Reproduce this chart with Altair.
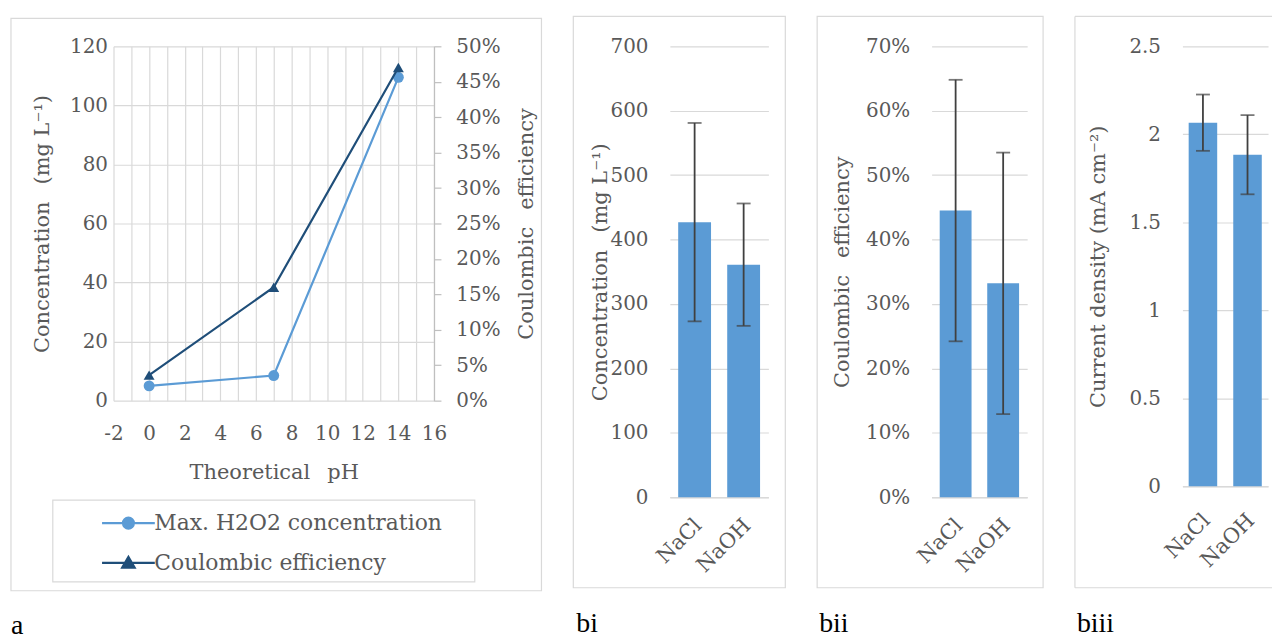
import altair as alt
import pandas as pd

# ---------------- data ----------------
ph = [0, 7, 14]
h2o2_conc = [5.0, 8.5, 109.5]          # mg L-1
coulombic_eff = [0.036, 0.16, 0.47]    # fraction

salts = ["NaCl", "NaOH"]
conc_mean = [427, 361]
conc_err = [154, 95]
ce_mean = [0.445, 0.332]
ce_err = [0.203, 0.203]
cd_mean = [2.066, 1.884]
cd_err = [0.16, 0.225]

series_names = ["Max. H2O2 concentration", "Coulombic efficiency"]
panel_labels = ["a", "bi", "bii", "biii"]

# ---------------- styles ----------------
LIGHT = "#5B9BD5"
DARK = "#1F4E79"
GRID = "#d9d9d9"
AXIS = "#bfbfbf"
TXT = "#595959"
FONT = "DejaVu Serif"
SP = " \u2002"

one = pd.DataFrame({"k": [0]})


def frame_rect(x1, x2, y1, y2):
    return alt.Chart(one).mark_rect(fill="transparent", stroke=GRID, strokeWidth=1.2).encode(
        x=alt.value(x1), x2=alt.value(x2), y=alt.value(y1), y2=alt.value(y2))


def panel_label(text, x, y):
    return alt.Chart(pd.DataFrame({"t": [text]})).mark_text(
        font="Liberation Serif", fontSize=28, color="black", align="left", baseline="alphabetic"
    ).encode(text="t:N", x=alt.value(x), y=alt.value(y))


# ---------------- panel a ----------------
A_W, A_H = 322, 356
df_a = pd.DataFrame({"ph": ph, "h2o2": h2o2_conc, "ce": coulombic_eff})

color_scale = alt.Scale(domain=series_names, range=[LIGHT, DARK])
P_CIRC = "M-5.3,0L5.3,0M-1.1,0A1.1,1.1,0,1,0,1.1,0A1.1,1.1,0,1,0,-1.1,0Z"
P_TRI = "M-5.3,0L5.3,0M-1.25,0.95L0,-1.2L1.25,0.95Z"
sig_shape = "datum.value === '%s' ? '%s' : '%s'" % (series_names[0], P_CIRC, P_TRI)
sig_col = "datum.value === '%s' ? '%s' : '%s'" % (series_names[0], LIGHT, DARK)

legend_def = alt.Legend(
    orient="none", legendX=4, legendY=468, title=None, padding=0,
    labelFont=FONT, labelFontSize=22, labelColor=TXT, labelLimit=500,
    labelOffset=15, symbolSize=100, rowPadding=18,
    symbolType={"expr": sig_shape},
    symbolStrokeColor={"expr": sig_col},
    symbolFillColor={"expr": sig_col},
    symbolStrokeWidth=2.2, symbolOpacity=1,
)

xa = alt.X("ph:Q", scale=alt.Scale(domain=[-2, 16], nice=False, zero=False),
           axis=alt.Axis(values=list(range(-2, 17)),
                         labelExpr="datum.value % 2 === 0 ? '' + datum.value : ''",
                         labelOverlap=False, labelBound=False, labelFlush=False,
                         grid=True, gridColor=GRID, gridWidth=1.2, domain=False, ticks=False,
                         labelPadding=23,
                         title="Theoretical" + SP + "pH", titleX=A_W / 2, titleY=72,
                         titleBaseline="middle", titleAlign="center"))
y_left = alt.Y("h2o2:Q", scale=alt.Scale(domain=[0, 120], nice=False),
               axis=alt.Axis(values=[0, 20, 40, 60, 80, 100, 120], grid=True, gridColor=GRID,
                             gridWidth=1.2, domain=False, ticks=False, labelPadding=6,
                             title="Concentration" + SP + "(mg L\u207b\u00b9)", titleX=-71,
                             titleY=A_H / 2, titleAngle=270, titleBaseline="middle",
                             titleAlign="center", orient="left"))
y_right = alt.Y("ce:Q", scale=alt.Scale(domain=[0, 0.5], nice=False),
                axis=alt.Axis(values=[0, 0.05, 0.1, 0.15, 0.2, 0.25, 0.3, 0.35, 0.4, 0.45, 0.5],
                              format=".0%", grid=False, domain=True, domainColor=AXIS,
                              domainWidth=1.2, ticks=True, tickColor=AXIS, tickSize=7,
                              tickWidth=1.2, labelPadding=15,
                              title="Coulombic" + SP + "efficiency", titleX=93, titleY=A_H / 2,
                              titleAngle=270, titleBaseline="middle", titleAlign="center",
                              orient="right"))

base_a = alt.Chart(df_a).encode(x=xa)
h_line = base_a.mark_line(color=LIGHT, strokeWidth=2.2).encode(y=y_left)
h_pts = base_a.mark_point(filled=True, shape="circle", size=120, opacity=1).transform_calculate(
    s="'%s'" % series_names[0]).encode(y=y_left, color=alt.Color("s:N", scale=color_scale, legend=legend_def))
c_line = base_a.mark_line(color=DARK, strokeWidth=2.2).encode(y=y_right)
c_pts = base_a.mark_point(filled=True, shape="triangle-up", size=120, opacity=1).transform_calculate(
    s="'%s'" % series_names[1]).encode(y=y_right, color=alt.Color("s:N", scale=color_scale, legend=legend_def))

panel_a = alt.layer(
    frame_rect(-103, 430, -28, 547),
    frame_rect(-61, 363, 456, 538),
    panel_label(panel_labels[0], -103, 590),
    alt.layer(h_line, h_pts),
    alt.layer(c_line, c_pts),
).resolve_scale(y="independent").properties(width=A_W, height=A_H)


# ---------------- bar panels ----------------
def bar_panel(means, errs, ymax, values, fmt, title, w, h, pad_in, pad_out,
              fr, lab, lab_x, title_x, xlab_pad, right_open=False):
    df = pd.DataFrame({"salt": salts, "mean": means, "err": errs})
    xb = alt.X("salt:N", sort=None,
               scale=alt.Scale(paddingInner=pad_in, paddingOuter=pad_out),
               axis=alt.Axis(title=None, labelAngle=315, labelAlign="right", labelBaseline="middle",
                             labelPadding=xlab_pad, labelOffset=4, ticks=False, domain=True,
                             domainColor=GRID, domainWidth=1.5, labelFontSize=21))
    yb = alt.Y("mean:Q", scale=alt.Scale(domain=[0, ymax], nice=False),
               axis=alt.Axis(values=values, format=fmt, grid=True, gridColor=GRID, gridWidth=1.2,
                             domain=False, ticks=False, labelPadding=22, title=title,
                             titleX=title_x, titleY=h / 2, titleAngle=270, titleBaseline="middle",
                             titleAlign="center"))
    base = alt.Chart(df).encode(x=xb)
    bars = base.mark_bar(color=LIGHT).encode(y=yb)
    eb = base.transform_calculate(lo="datum.mean - datum.err", hi="datum.mean + datum.err")
    rule = eb.mark_rule(color="#404040", strokeWidth=1.8).encode(y="lo:Q", y2="hi:Q")
    tlo = eb.mark_tick(color="#404040", size=14, thickness=1.8, orient="horizontal").encode(y="lo:Q")
    thi = eb.mark_tick(color="#404040", size=14, thickness=1.8, orient="horizontal").encode(y="hi:Q")
    x1, x2, y1, y2 = fr
    if right_open:
        deco = [
            alt.Chart(one).mark_rule(color=GRID, strokeWidth=1.2).encode(
                x=alt.value(x1), y=alt.value(y1), y2=alt.value(y2)),
            alt.Chart(one).mark_rule(color=GRID, strokeWidth=1.2).encode(
                x=alt.value(x1), x2=alt.value(x2), y=alt.value(y1)),
            alt.Chart(one).mark_rule(color=GRID, strokeWidth=1.2).encode(
                x=alt.value(x1), x2=alt.value(x2), y=alt.value(y2)),
        ]
    else:
        deco = [frame_rect(x1, x2, y1, y2)]
    return alt.layer(*deco, panel_label(lab, lab_x, 588), bars, rule, tlo, thi).properties(
        width=w, height=h)


panel_bi = bar_panel(conc_mean, conc_err, 700, [0, 100, 200, 300, 400, 500, 600, 700], "d",
                     "Concentration" + SP + "(mg L\u207b\u00b9)", 99, 453, 0.33, 0.17,
                     (-97, 116, -30, 544), panel_labels[1], -94, -70, 25)
panel_bii = bar_panel(ce_mean, ce_err, 0.7, [0, 0.1, 0.2, 0.3, 0.4, 0.5, 0.6, 0.7], ".0%",
                      "Coulombic" + SP + "efficiency", 96, 453, 0.33, 0.17,
                      (-115, 112, -30, 544), panel_labels[2], -113, -90, 25)
panel_biii = bar_panel(cd_mean, cd_err, 2.5, [0, 0.5, 1, 1.5, 2, 2.5], "~g",
                       "Current density (mA cm\u207b\u00b2)", 86, 442, 0.36, 0.14,
                       (-108, 90, -30, 544), panel_labels[3], -106, -84, 31, right_open=True)

chart = alt.hconcat(panel_a, panel_bi, panel_bii, panel_biii, spacing=30).properties(
    padding={"left": 2, "top": 6, "right": 0, "bottom": 0}
).configure_view(stroke=None).configure_axis(
    labelFont=FONT, labelFontSize=20, labelColor=TXT,
    titleFont=FONT, titleFontSize=21, titleColor=TXT, titleFontWeight="normal",
)

chart.save("out.html", embed_options={"renderer": "svg", "actions": False})
